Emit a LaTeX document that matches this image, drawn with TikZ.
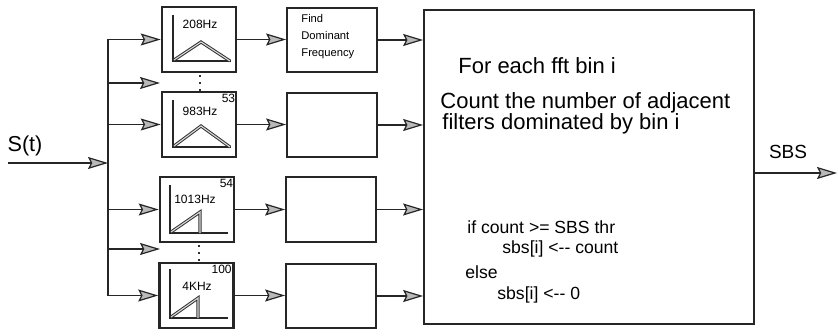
\documentclass[tikz,border=0pt]{standalone}
\usepackage{fontspec}
\setmainfont{Liberation Sans}
\usetikzlibrary{arrows.meta}
\begin{document}
\begin{tikzpicture}[x=0.5pt,y=-0.5pt,
  line/.style={line width=0.8pt,draw=black!85},
  arr/.style={line, -{Stealth[length=10pt,width=6pt,inset=1.5pt,fill=gray!55,line width=0.6pt]}},
  filt/.style={draw=black!85,line width=1.3pt,minimum width=37pt,minimum height=32.5pt,inner sep=0pt},
  dbox/.style={draw=black!85,line width=0.9pt,minimum width=45pt,minimum height=32pt,inner sep=0pt},
  resp/.style={draw=black!80,line width=0.5pt,double=gray!30,double distance=0.55pt},
  flab/.style={font=\fontsize{6}{7}\selectfont,inner sep=0pt},
  fnum/.style={font=\fontsize{6}{7}\selectfont,inner sep=0pt,anchor=north east},
  big/.style={font=\fontsize{11}{13}\selectfont,inner sep=0pt,anchor=west},
  code/.style={font=\fontsize{8.8}{10}\selectfont,inner sep=0pt,anchor=west},
  dots/.style={line width=1pt,dash pattern=on 1pt off 2.5pt,draw=black!80}]
\useasboundingbox (0,0) rectangle (838,336);

% filter boxes
\node[filt] (f1) at (199,39.5) {};
\node[filt] (f2) at (199,124.5) {};
\node[filt] (f3) at (197,209.5) {};
\node[filt] (f4) at (196.5,295.5) {};

% filter icons
\draw[line,line width=1pt] (173,15) -- (173,61) -- (231,61);
\draw[resp] (174,60) -- (201,42) -- (230,61);
\node[flab] (l1) at (200,24) {208Hz};

\draw[line,line width=1pt] (173,100) -- (173,147) -- (231,147);
\draw[resp] (174,146) -- (201,126) -- (230,147);
\node[flab] (l2) at (200,111) {983Hz};
\node[fnum] (n2) at (235.5,93.5) {53};

\draw[line,line width=1pt] (170,185) -- (170,233) -- (228,233);
\draw[resp] (171,232) -- (200,212) -- (200,233);
\node[flab] (l3) at (195,199) {1013Hz};
\node[fnum] (n3) at (233.5,178.5) {54};

\draw[line,line width=1pt] (170,269) -- (170,318) -- (228,318);
\draw[resp] (171,317) -- (198,298) -- (198,318);
\node[flab] (l4) at (197,286) {4KHz};
\node[fnum] (n4) at (232,265) {100};

% dots
\draw[dots] (200,75) -- (200,91);
\draw[dots] (199,245) -- (199,261);

% dominant frequency boxes
\node[dbox] (d1) at (332,40) {};
\node[dbox] (d2) at (332,125) {};
\node[dbox,minimum height=32.5pt] (d3) at (331,209.5) {};
\node[dbox] (d4) at (331,296) {};
\node[anchor=north west,inner sep=0pt,align=left,font=\fontsize{5.6}{8.5}\selectfont] (dt) at (301,14) {Find\\Dominant\\Frequency};

% big box
\node[draw=black!85,line width=0.9pt,minimum width=165pt,minimum height=157pt,inner sep=0pt] (bb) at (589,167) {};
\node[big] (t1) at (458,66) {For each fft bin i};
\node[big] (t2) at (440,103) {Count the number of adjacent};
\node[big] (t3) at (442,124) {filters dominated by bin i};
\node[code] (c1) at (467,227) {if count >= SBS thr};
\node[code] (c2) at (502,249) {sbs[i] <-{}- count};
\node[code] (c3) at (465,272) {else};
\node[code] (c4) at (497,295) {sbs[i] <-{}- 0};

% input
\coordinate (in) at (8,163);
\coordinate (j) at (108,163);
\coordinate (e1) at (160,83);
\coordinate (e2) at (160,249);
\node[inner sep=0pt,font=\fontsize{10.8}{12}\selectfont] (st) at (25,146) {S(t)};
\draw[arr] (in) -- (j);
\draw[line] (j |- f1.west) -- (j |- f4.west);
\draw[arr] (j |- f1.west) -- (f1.west);
\draw[arr] (j |- e1) -- (e1);
\draw[arr] (j |- f2.west) -- (f2.west);
\draw[arr] (j |- f3.west) -- (f3.west);
\draw[arr] (j |- e2) -- (e2);
\draw[arr] (j |- f4.west) -- (f4.west);

% filter -> boxes
\draw[arr] (f1.east) -- (f1.east -| d1.west);
\draw[arr] (f2.east) -- (f2.east -| d2.west);
\draw[arr] (f3.east) -- (f3.east -| d3.west);
\draw[arr] (f4.east) -- (f4.east -| d4.west);

% boxes -> big
\draw[arr] (d1.east) -- (d1.east -| bb.west);
\draw[arr] (d2.east) -- (d2.east -| bb.west);
\draw[arr] (d3.east) -- (d3.east -| bb.west);
\draw[arr] (d4.east) -- (d4.east -| bb.west);

% output
\coordinate (out) at (837,173);
\draw[arr] (bb.east |- out) -- (out);
\node[inner sep=0pt,font=\fontsize{9.5}{11}\selectfont] (sbs) at (788,152) {SBS};
\end{tikzpicture}
\end{document}
